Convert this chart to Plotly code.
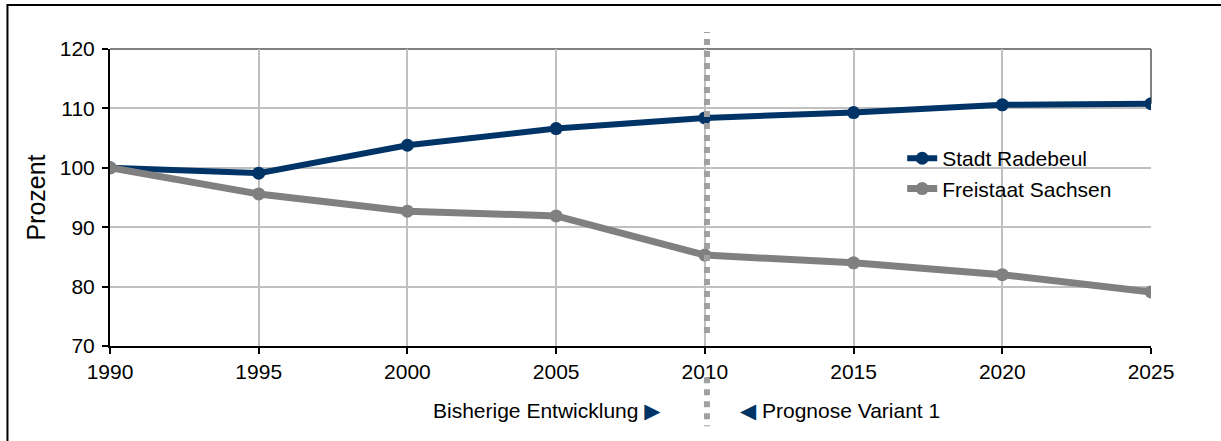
import plotly.graph_objects as go

# data
years = [1990, 1995, 2000, 2005, 2010, 2015, 2020, 2025]
radebeul = [100.0, 99.1, 103.8, 106.6, 108.4, 109.3, 110.6, 110.8]
sachsen = [100.0, 95.6, 92.7, 91.9, 85.3, 84.0, 82.0, 79.1]
y_ticks = [70, 80, 90, 100, 110, 120]

NAVY = '#003366'
GREY = '#808080'
FONT = dict(family="Liberation Sans, Arial, sans-serif", size=21, color="#000000")
TRI = "<span style='color:#003366;font-family:DejaVu Sans;font-size:21px'>{}</span>"

fig = go.Figure()

fig.add_trace(go.Scatter(x=years, y=radebeul, name='Stadt Radebeul', mode='lines+markers',
                         line=dict(color=NAVY, width=6), marker=dict(color=NAVY, size=13)))
fig.add_trace(go.Scatter(x=years, y=sachsen, name='Freistaat Sachsen', mode='lines+markers',
                         line=dict(color=GREY, width=7), marker=dict(color=GREY, size=13)))

# plot frame: grey top and right edge
fig.add_shape(type='line', xref='paper', yref='paper', x0=0, x1=1, y0=1, y1=1,
              line=dict(color=GREY, width=2), layer='between')
fig.add_shape(type='line', xref='paper', yref='y', x0=1, x1=1, y0=110.8, y1=120,
              line=dict(color=GREY, width=2), layer='between')

# white patch behind the legend (hides the grid)
fig.add_shape(type='rect', xref='paper', yref='paper', x0=0.73, x1=0.975, y0=0.47, y1=0.695,
              line=dict(width=0), fillcolor='white', layer='between')

# divider between history and forecast
div_x = 2010.07
fig.add_shape(type='line', xref='x', yref='paper', x0=div_x, x1=div_x, y0=0.044, y1=1.057,
              line=dict(color='#a0a0a0', width=6, dash='6px,6px'))
fig.add_shape(type='line', xref='x', yref='paper', x0=div_x, x1=div_x, y0=-0.105, y1=-0.27,
              line=dict(color='#a0a0a0', width=6, dash='6px,6px'))

# outer border
fig.add_shape(type='rect', xref='paper', yref='paper', x0=-0.0985, x1=1.2, y0=-0.5, y1=1.148,
              line=dict(color='#000000', width=2), fillcolor='rgba(0,0,0,0)')

fig.add_annotation(xref='paper', yref='paper', x=0.531, y=-0.219, xanchor='right', yanchor='middle',
                   text="Bisherige Entwicklung " + TRI.format("▶"),
                   showarrow=False, font=FONT)
fig.add_annotation(xref='paper', yref='paper', x=0.603, y=-0.219, xanchor='left', yanchor='middle',
                   text=TRI.format("◀") + " Prognose Variant 1",
                   showarrow=False, font=FONT)

fig.update_layout(width=1221, height=441,
                  paper_bgcolor='white', plot_bgcolor='white',
                  font=FONT, showlegend=True,
                  legend=dict(x=0.761, y=0.70, xanchor='left', yanchor='top', bgcolor='rgba(0,0,0,0)',
                              font=FONT, itemwidth=30, tracegroupgap=0),
                  margin=dict(l=110, r=70, t=49, b=95))

fig.update_xaxes(range=[1990, 2025], tickvals=years, showgrid=True, gridcolor='#c0c0c0', gridwidth=2,
                 showline=True, linecolor='#000000', linewidth=2, ticks='outside', ticklen=6,
                 tickwidth=2, tickcolor='#000000', zeroline=False, fixedrange=True)
fig.update_yaxes(range=[70, 120], tickvals=y_ticks, showgrid=True, gridcolor='#c0c0c0', gridwidth=2,
                 showline=True, linecolor='#000000', linewidth=2, ticks='outside', ticklen=6,
                 tickwidth=2, tickcolor='#000000', zeroline=False, fixedrange=True,
                 ticklabelstandoff=3, title=dict(text='Prozent', standoff=7))

# page has a default body margin; drop it so the figure sits at the window corner
fig.write_html("out.html", config={'displayModeBar': False},
               post_script="document.body.style.margin='0';")
